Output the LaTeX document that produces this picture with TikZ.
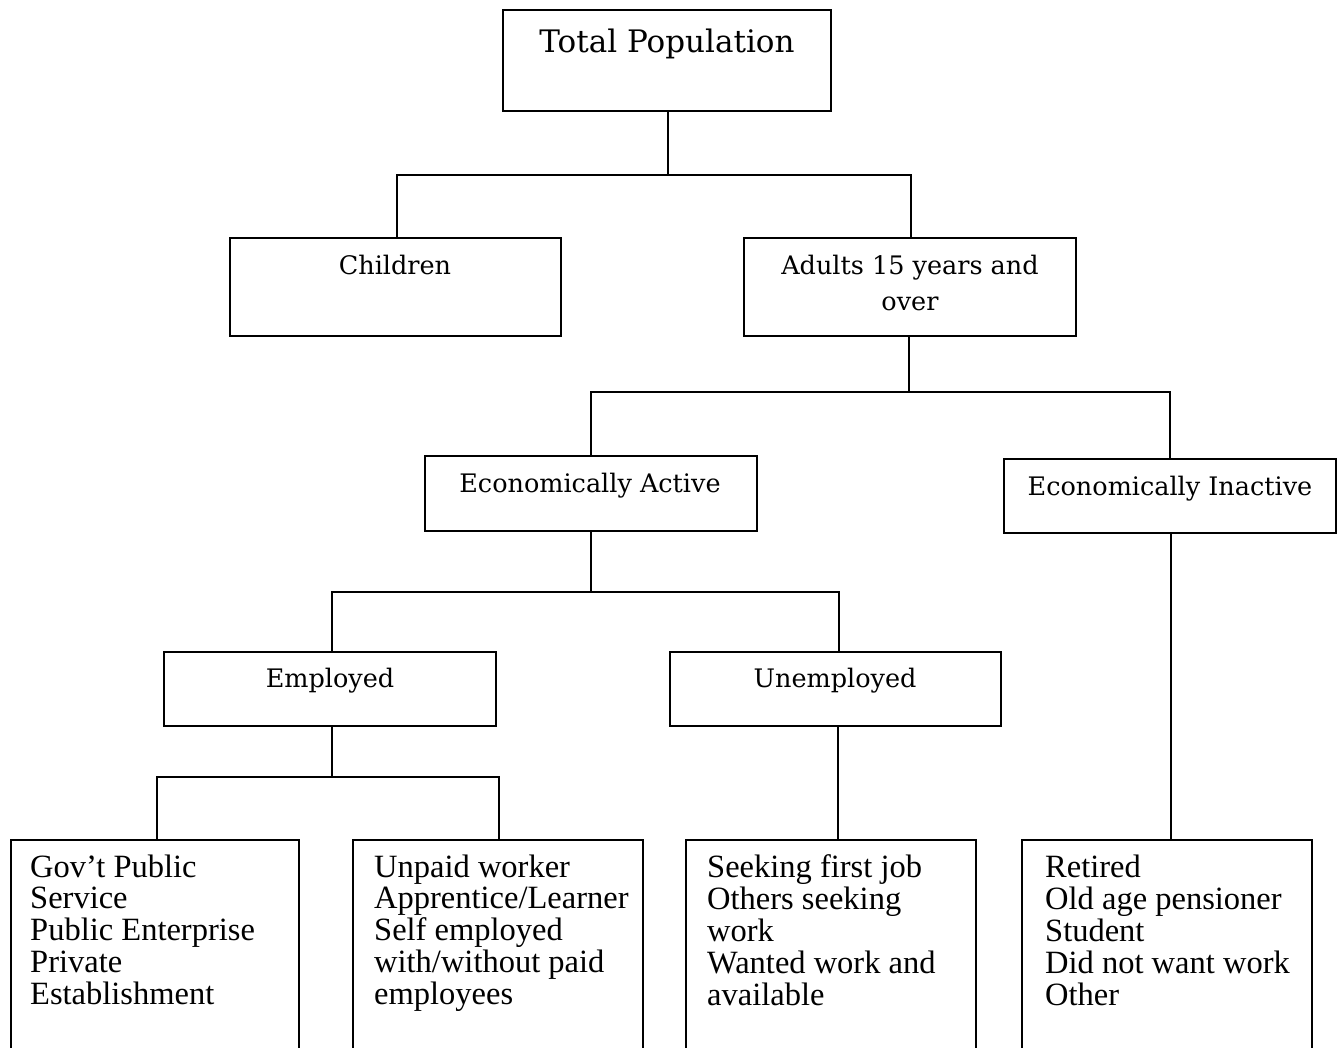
\documentclass[tikz,border=0pt]{standalone}
\usepackage{fontspec}
\setmainfont{Liberation Serif}
\newfontfamily\bkfont{DejaVu Serif}
\begin{document}
\begin{tikzpicture}[x=1pt,y=-1pt,
  box/.style={draw, line width=1.6pt, inner sep=0pt, outer sep=0pt, anchor=north west},
  conn/.style={line width=1.6pt},
  lbl/.style={font=\bkfont\fontsize{25.5}{36}\selectfont, inner sep=0pt, anchor=base},
  lst/.style={font=\fontsize{32.5}{31.5}\selectfont, inner sep=0pt, anchor=base west}]
\useasboundingbox (0,0) rectangle (1339,1048);
\fill[white] (0,0) rectangle (1339,1048);
\clip (0,0) rectangle (1339,1048);
% boxes
\node[box, minimum width=328pt, minimum height=101pt] (tp) at (503,10) {};
\node[box, minimum width=331pt, minimum height=98pt] (ch) at (230,238) {};
\node[box, minimum width=332pt, minimum height=98pt] (ad) at (744,238) {};
\node[box, minimum width=332pt, minimum height=75pt] (ea) at (425,456) {};
\node[box, minimum width=332pt, minimum height=74pt] (ei) at (1004,459) {};
\node[box, minimum width=332pt, minimum height=74pt] (em) at (164,652) {};
\node[box, minimum width=331pt, minimum height=74pt] (un) at (670,652) {};
\node[box, minimum width=288pt, minimum height=240pt] (b1) at (11,840) {};
\node[box, minimum width=290pt, minimum height=240pt] (b2) at (353,840) {};
\node[box, minimum width=290pt, minimum height=240pt] (b3) at (686,840) {};
\node[box, minimum width=290pt, minimum height=240pt] (b4) at (1022,840) {};
% junctions
\coordinate (j1) at (668,175);
\coordinate (j2) at (909,392);
\coordinate (j3) at (591,592);
\coordinate (j4) at (332,777);
% connectors
\draw[conn] (tp.south -| j1) -- (j1);
\draw[conn] ([xshift=1.5pt]ch.north) |- (j1) -| ([xshift=1pt]ad.north);
\draw[conn] (ad.south -| j2) -- (j2);
\draw[conn] (ea.north) |- (j2) -| (ei.north);
\draw[conn] (ea.south -| j3) -- (j3);
\draw[conn] ([xshift=2pt]em.north) |- (j3) -| ([xshift=3.5pt]un.north);
\draw[conn] (em.south -| j4) -- (j4);
\draw[conn] ([xshift=2pt]b1.north) |- (j4) -| ([xshift=1pt]b2.north);
\draw[conn] ([xshift=2.5pt]un.south) -- ([xshift=2.5pt]un.south |- b3.north);
\draw[conn] ([xshift=1pt]ei.south) -- ([xshift=1pt]ei.south |- b4.north);
% labels
\node[lbl, font=\bkfont\fontsize{31}{36}\selectfont] (tpt) at (667,53) {Total Population};
\node[lbl] (cht) at (395,275) {Children};
\node[lbl] (adt) at (910,275) {\begin{tabular}[t]{@{}c@{}}Adults 15 years and\\ over\end{tabular}};
\node[lbl] (eat) at (590,493) {Economically Active};
\node[lbl] (eit) at (1170,495) {Economically Inactive};
\node[lbl] (emt) at (330,687) {Employed};
\node[lbl] (unt) at (835,687) {Unemployed};
\node[lst] (b1t) at (30,877) {\begin{tabular}[t]{@{}l@{}}Gov’t Public\\ Service\\ Public Enterprise\\ Private\\ Establishment\end{tabular}};
\node[lst] (b2t) at (374,877) {\begin{tabular}[t]{@{}l@{}}Unpaid worker\\ Apprentice/Learner\\ Self employed\\ with/without paid\\ employees\end{tabular}};
\node[lst] (b3t) at (707,877) {\begin{tabular}[t]{@{}l@{}}Seeking first job\\ Others seeking\\ work\\ Wanted work and\\ available\end{tabular}};
\node[lst] (b4t) at (1045,877) {\begin{tabular}[t]{@{}l@{}}Retired\\ Old age pensioner\\ Student\\ Did not want work\\ Other\end{tabular}};
\end{tikzpicture}
\end{document}
